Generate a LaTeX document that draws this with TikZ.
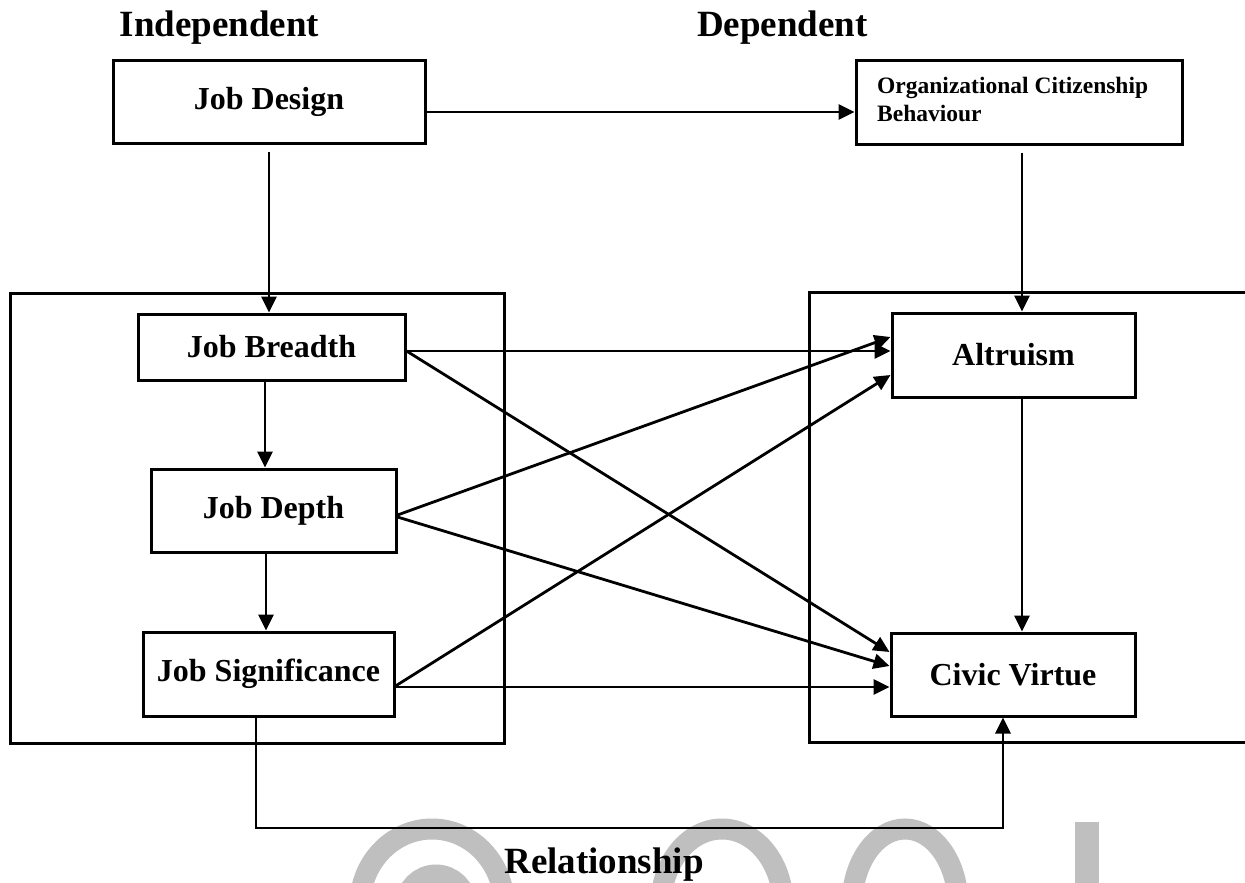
\documentclass[tikz,border=0pt]{standalone}
\usepackage{fontspec}
\setmainfont{Liberation Serif}
\usetikzlibrary{arrows.meta}
\begin{document}
\begin{tikzpicture}[x=1pt,y=-1pt,
  box/.style={draw, line width=3pt, rectangle, inner sep=0pt, font=\fontsize{32}{38}\selectfont\bfseries},
  frame/.style={draw, line width=3pt, rectangle, inner sep=0pt},
  arr/.style={line width=2.8pt, -{Triangle[length=16pt,width=15pt]}},
  ln/.style={line width=3pt},
  hdr/.style={font=\fontsize{37}{44}\selectfont\bfseries, inner sep=0pt, anchor=base},
  wm/.style={line width=21pt, draw=black!25}]
\useasboundingbox (0,0) rectangle (1245,883);
% watermark
\begin{scope}
\clip (0,0) rectangle (1245,883);
\draw[wm] (360,905) arc[start angle=180, end angle=360, x radius=72, y radius=76];
\draw[wm] (406,905) arc[start angle=180, end angle=360, x radius=30, y radius=30];
\draw[wm] (661,905) arc[start angle=180, end angle=360, x radius=61, y radius=76];
\draw[wm] (852,905) arc[start angle=180, end angle=360, x radius=53, y radius=76];
\fill[black!25] (1075,822) rectangle (1099,890);
\end{scope}
% headers
\node[hdr] (ind) at (219.5,37) {Independent};
\node[hdr] (dep) at (782.5,37) {Dependent};
\node[hdr] (rel) at (604,873) {Relationship};
% containers
\node[frame, minimum width=494pt, minimum height=450pt] (lo) at (257,518) {};
\coordinate (ro1) at (1245,292);
\coordinate (ro2) at (809,292);
\coordinate (ro3) at (809,742);
\coordinate (ro4) at (1245,742);
\draw[ln] (ro1) -- (ro2) -- (ro3) -- (ro4);
% boxes
\node[box, minimum width=312pt, minimum height=82pt] (jd) at (269,102) {Job Design};
\node[box, minimum width=326pt, minimum height=83pt] (ocb) at (1019,102.5) {};
\node[anchor=north west, inner sep=0pt, align=left, font=\fontsize{23.5}{28}\selectfont\bfseries] (ocbt) at (877,77) {Organizational Citizenship\\Behaviour};
\node[box, minimum width=267pt, minimum height=66pt] (jb) at (271.5,347) {Job Breadth};
\node[box, minimum width=245pt, minimum height=83pt] (jdp) at (273.5,510.5) {Job Depth};
\node[box, minimum width=251pt, minimum height=84pt] (js) at (268.5,674) {Job Significance};
\node[box, minimum width=243pt, minimum height=84pt] (alt) at (1013.5,355) {Altruism};
\node[box, minimum width=244pt, minimum height=83pt] (cv) at (1013,674.5) {Civic Virtue};
% vertical connectors
\draw[arr, shorten <=7pt] (jd.south) -- (jd.south |- jb.north);
\draw[arr, shorten <=7pt] ([xshift=3pt]ocb.south) -- ([xshift=3pt]ocb.south |- alt.north);
\draw[arr] ([xshift=-6.5pt]jb.south) -- ([xshift=-6.5pt]jb.south |- jdp.north);
\draw[arr] ([xshift=-7.5pt]jdp.south) -- ([xshift=-7.5pt]jdp.south |- js.north);
\draw[arr] ([xshift=8.5pt]alt.south) -- ([xshift=8.5pt]alt.south |- cv.north);
% horizontal top connector
\draw[arr] ([yshift=-10pt]jd.east) -- ([yshift=-10pt]jd.east -| ocb.west);
% cross connectors
\draw[arr] ([yshift=-4pt]jb.east) -- ([yshift=-4pt]jb.east -| alt.west);
\draw[arr] ([yshift=-4pt]jb.east) -- ([yshift=22.5pt]cv.west);
\draw[arr] ([yshift=-4.5pt]jdp.east) -- ([yshift=18pt]alt.west);
\draw[arr] ([yshift=-6.5pt]jdp.east) -- ([yshift=8.5pt]cv.west);
\draw[arr] ([yshift=-12pt]js.east) -- ([yshift=-20pt]alt.west);
\draw[arr] ([yshift=-13pt]js.east) -- ([yshift=-13pt]js.east -| cv.west);
% bottom loop
\coordinate (cvb) at ([xshift=-10pt]cv.south);
\coordinate (lp) at (0,828);
\draw[arr] ([xshift=-12.5pt]js.south) |- (lp -| cvb) -- (cvb);
\end{tikzpicture}
\end{document}
